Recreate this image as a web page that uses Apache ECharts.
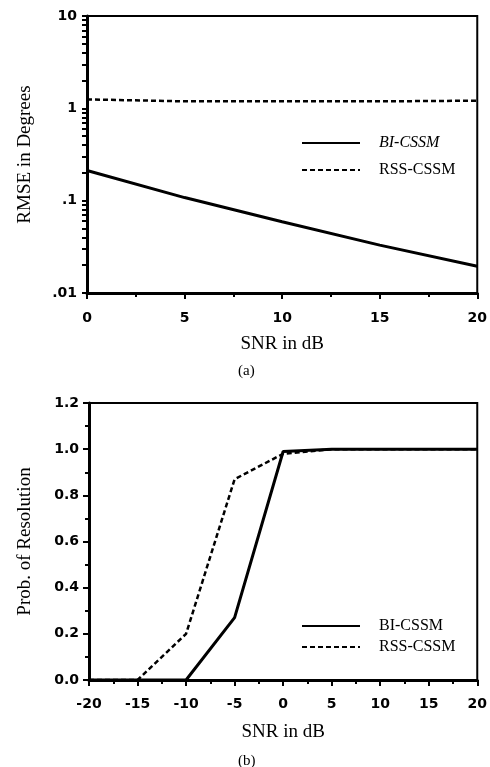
<!DOCTYPE html>
<html>
<head>
<meta charset="utf-8">
<script src="https://cdn.jsdelivr.net/npm/echarts@6/dist/echarts.min.js"></script>
<style>
  html, body { margin: 0; padding: 0; background: #fff; }
  #chart { width: 490px; height: 767px; }
</style>
</head>
<body>
<div id="chart"></div>
<script>
// (a) RMSE versus SNR
const snrA = [0, 5, 10, 15, 20];
const rmseBI = [0.212, 0.108, 0.059, 0.033, 0.0195];
const rmseRSS = [1.25, 1.19, 1.19, 1.19, 1.21];
const rmseTicks = [10, 1, 0.1, 0.01];
const rmseTickLabels = ['10', '1', '.1', '.01'];

// (b) probability of resolution versus SNR
const snrB = [-20, -15, -10, -5, 0, 5, 10, 15, 20];
const probBI = [0, 0, 0, 0.27, 0.99, 1.0, 1.0, 1.0, 1.0];
const probRSS = [0, 0, 0.2, 0.87, 0.98, 1.0, 1.0, 1.0, 1.0];

const seriesNames = ['BI-CSSM', 'RSS-CSSM'];

// log-axis tick positions: every 1..9 multiple inside each decade
const logTickValues = [];
[0.01, 0.1, 1].forEach(d => { for (let k = 1; k < 10; k++) logTickValues.push(+(d * k).toPrecision(3)); });
logTickValues.push(10);

const serif = '"Liberation Serif", "DejaVu Serif", serif';
const sans = '"DejaVu Sans", "Liberation Sans", Arial, sans-serif';

const tickLabelStyle = { color: '#000', fontFamily: sans, fontWeight: 'bold', fontSize: 14 };
const axisNameStyle = { color: '#000', fontFamily: serif, fontSize: 19 };
const legendText = { fontFamily: serif, fontSize: 16, color: '#000', padding: [0, 0, 0, 14] };

function pairs(xs, ys) { return xs.map((x, i) => [x, ys[i]]); }

const solidStyle = { color: '#000', width: 3, type: 'solid' };
const dashStyle = { color: '#000', width: 2.5, type: [5, 3] };
const tickLine = { color: '#000', width: 2 };

const chart = echarts.init(document.getElementById('chart'), null, { renderer: 'canvas' });

chart.setOption({
  animation: false,
  backgroundColor: '#fff',
  title: [
    { text: '(a)', left: 238, top: 364, padding: 0,
      textStyle: { fontFamily: serif, fontSize: 15, fontWeight: 'normal', color: '#000' } },
    { text: '(b)', left: 238, top: 754, padding: 0,
      textStyle: { fontFamily: serif, fontSize: 15, fontWeight: 'normal', color: '#000' } }
  ],
  grid: [
    { left: 87, right: 11, top: 16, height: 277, show: true, borderColor: '#000', borderWidth: 2 },
    { left: 89, right: 9, top: 403, height: 277, show: true, borderColor: '#000', borderWidth: 2 }
  ],
  legend: [
    {
      left: 296, top: 130, orient: 'vertical', itemWidth: 58, itemHeight: 18, itemGap: 11,
      itemStyle: { opacity: 0 },
      data: [
        { name: seriesNames[0], textStyle: { fontStyle: 'italic' } },
        { name: seriesNames[1] }
      ],
      textStyle: legendText,
      selectedMode: false
    },
    {
      left: 296, top: 613, orient: 'vertical', itemWidth: 58, itemHeight: 18, itemGap: 5,
      itemStyle: { opacity: 0 },
      data: seriesNames,
      textStyle: legendText,
      selectedMode: false
    }
  ],
  xAxis: [
    {
      gridIndex: 0, type: 'value', min: 0, max: 20, interval: 5,
      name: 'SNR in dB', nameLocation: 'middle', nameGap: 42, nameTextStyle: axisNameStyle,
      axisLine: { onZero: false, lineStyle: { color: '#000', width: 3 } },
      axisTick: { show: true, length: 6, lineStyle: tickLine },
      minorTick: { show: true, splitNumber: 2, length: 4, lineStyle: tickLine },
      splitLine: { show: false },
      axisLabel: Object.assign({ margin: 18 }, tickLabelStyle)
    },
    {
      gridIndex: 1, type: 'value', min: -20, max: 20, interval: 5,
      name: 'SNR in dB', nameLocation: 'middle', nameGap: 43, nameTextStyle: axisNameStyle,
      axisLine: { onZero: false, lineStyle: { color: '#000', width: 3 } },
      axisTick: { show: true, length: 6, lineStyle: tickLine },
      minorTick: { show: true, splitNumber: 2, length: 4, lineStyle: tickLine },
      splitLine: { show: false },
      axisLabel: Object.assign({ margin: 17 }, tickLabelStyle)
    }
  ],
  yAxis: [
    {
      gridIndex: 0, type: 'log', logBase: 10, min: 0.01, max: 10,
      name: 'RMSE in Degrees', nameLocation: 'middle', nameGap: 52, nameTextStyle: axisNameStyle,
      axisLine: { onZero: false, lineStyle: { color: '#000', width: 3 } },
      axisTick: { show: true, length: 5, customValues: logTickValues, lineStyle: tickLine },
      minorTick: { show: false },
      splitLine: { show: false },
      axisLabel: Object.assign({
        margin: 10,
        formatter: function (v) {
          let best = 0;
          rmseTicks.forEach((t, i) => {
            if (Math.abs(Math.log10(t) - Math.log10(v)) < Math.abs(Math.log10(rmseTicks[best]) - Math.log10(v))) best = i;
          });
          return rmseTickLabels[best];
        }
      }, tickLabelStyle)
    },
    {
      gridIndex: 1, type: 'value', min: 0, max: 1.2, interval: 0.2,
      name: 'Prob. of Resolution', nameLocation: 'middle', nameGap: 54, nameTextStyle: axisNameStyle,
      axisLine: { onZero: false, lineStyle: { color: '#000', width: 3 } },
      axisTick: { show: true, length: 6, lineStyle: tickLine },
      minorTick: { show: true, splitNumber: 2, length: 4, lineStyle: tickLine },
      splitLine: { show: false },
      axisLabel: Object.assign({ margin: 10, formatter: v => v.toFixed(1) }, tickLabelStyle)
    }
  ],
  series: [
    { name: seriesNames[0], type: 'line', xAxisIndex: 0, yAxisIndex: 0, data: pairs(snrA, rmseBI),
      symbol: 'none', lineStyle: solidStyle, itemStyle: { color: '#000' } },
    { name: seriesNames[1], type: 'line', xAxisIndex: 0, yAxisIndex: 0, data: pairs(snrA, rmseRSS),
      symbol: 'none', lineStyle: dashStyle, itemStyle: { color: '#000' } },
    { name: seriesNames[0], type: 'line', xAxisIndex: 1, yAxisIndex: 1, data: pairs(snrB, probBI),
      symbol: 'none', lineStyle: solidStyle, itemStyle: { color: '#000' } },
    { name: seriesNames[1], type: 'line', xAxisIndex: 1, yAxisIndex: 1, data: pairs(snrB, probRSS),
      symbol: 'none', lineStyle: dashStyle, itemStyle: { color: '#000' } }
  ]
});
</script>
</body>
</html>
